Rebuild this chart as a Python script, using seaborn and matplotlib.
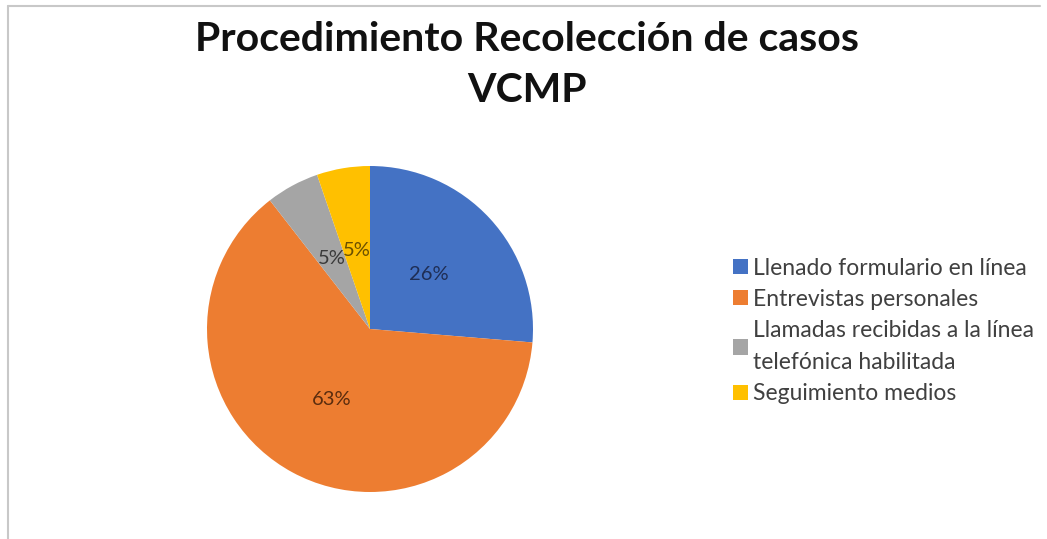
import matplotlib
matplotlib.use("Agg")
import matplotlib.pyplot as plt
import seaborn as sns
from matplotlib.lines import Line2D

# ---- data ----
categories = [
    "Llenado formulario en línea",
    "Entrevistas personales",
    "Llamadas recibidas a la línea\ntelefónica habilitada",
    "Seguimiento medios",
]
counts = [5, 12, 1, 1]
title = "Procedimiento Recolección de casos\nVCMP"

colors = ["#4472C4", "#ED7D31", "#A5A5A5", "#FFC000"]
label_colors = ["#1F2E55", "#5A2C0E", "#3A3A3A", "#6B5000"]

sns.set_style("white")
plt.rcParams["font.family"] = ["Lato", "DejaVu Sans"]

fig = plt.figure(figsize=(10.47, 5.39), dpi=100)
fig.patch.set_facecolor("white")

# frame lines (top and left)
fig.add_artist(Line2D([8 / 1047, 1040 / 1047], [1 - 6 / 539, 1 - 6 / 539],
                      transform=fig.transFigure, color="#c8c8c8", lw=1.5))
fig.add_artist(Line2D([8 / 1047, 8 / 1047], [0, 1 - 6 / 539],
                      transform=fig.transFigure, color="#c8c8c8", lw=1.5))

ax = fig.add_axes([207 / 1047, 47 / 539, 326 / 1047, 326 / 539])
wedges, texts, autotexts = ax.pie(
    counts,
    colors=colors,
    startangle=90,
    counterclock=False,
    autopct=lambda p: f"{p:.0f}%",
    pctdistance=0.49,
    wedgeprops=dict(linewidth=0),
    textprops=dict(fontsize=14.5),
)
for t, c in zip(autotexts, label_colors):
    t.set_color(c)
ax.set_xlim(-1, 1)
ax.set_ylim(-1, 1)
ax.set_aspect("equal")
ax.axis("off")

fig.text(527 / 1047, 1 - 65 / 539, title, ha="center", va="center",
         fontsize=29.5, fontweight="bold", color="#111111", linespacing=1.45)

leg = fig.legend(
    wedges, categories,
    loc="center left",
    bbox_to_anchor=(733 / 1047, 1 - 331 / 539),
    frameon=False,
    fontsize=16.5,
    handlelength=0.66,
    handleheight=0.66,
    handletextpad=0.2,
    labelspacing=0.45,
    borderaxespad=0,
    borderpad=0,
)
for t in leg.get_texts():
    t.set_color("#404040")
    t.set_linespacing(1.65)

fig.savefig("out.png", dpi=100, facecolor="white")
